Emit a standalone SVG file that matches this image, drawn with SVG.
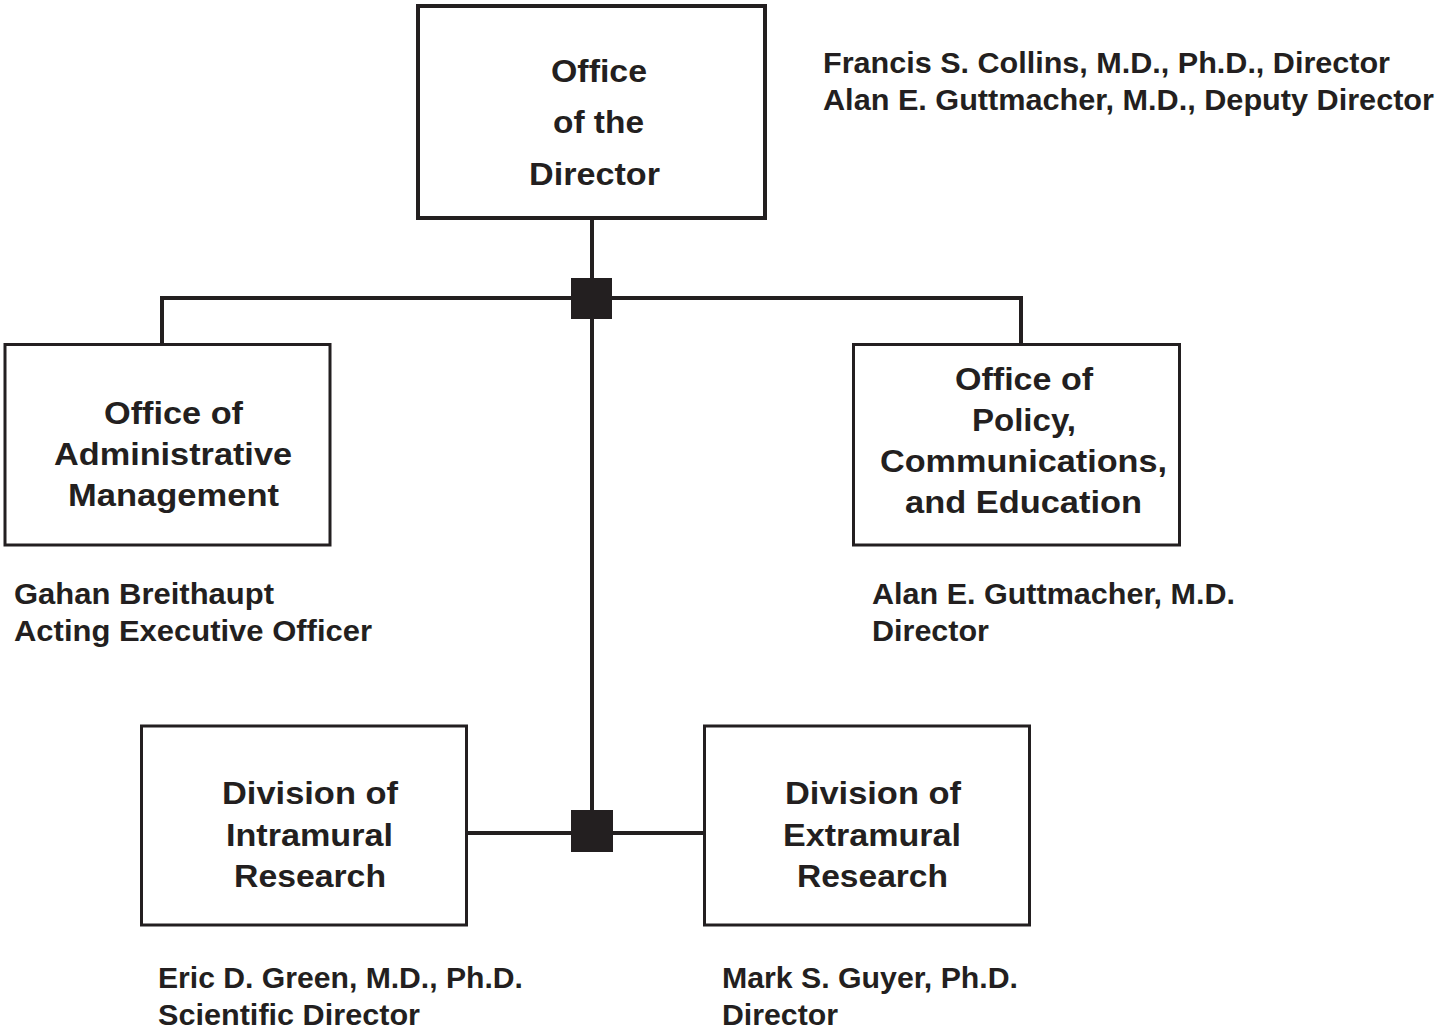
<svg xmlns="http://www.w3.org/2000/svg" width="1435" height="1031" viewBox="0 0 1435 1031">
<style>
.box{fill:#fff;stroke:#231f20;stroke-width:3}
.top{stroke-width:4}
.ln{fill:none;stroke:#231f20;stroke-width:4}
.jn{fill:#231f20}
.t{font-family:"Liberation Sans",Arial,sans-serif;font-weight:bold;font-size:29px;fill:#231f20}
.b{font-size:31px}
</style>
<rect width="1435" height="1031" fill="#fff"/>
<g id="connectors">
<line class="ln" x1="592" y1="218" x2="592" y2="831"/>
<polyline class="ln" points="162,344 162,298 1021,298 1021,344"/>
<line class="ln" x1="467" y1="833" x2="703" y2="833"/>
<rect class="jn" x="571" y="278" width="41" height="41"/>
<rect class="jn" x="571" y="810" width="42" height="42"/>
</g>
<g id="director">
<rect class="box top" x="418" y="6" width="347" height="212"/>
<text class="t b" x="551" y="82" textLength="96" lengthAdjust="spacingAndGlyphs">Office</text>
<text class="t b" x="553" y="133" textLength="91" lengthAdjust="spacingAndGlyphs">of the</text>
<text class="t b" x="529" y="185" textLength="131" lengthAdjust="spacingAndGlyphs">Director</text>
<text class="t" x="823" y="73" textLength="567" lengthAdjust="spacingAndGlyphs">Francis S. Collins, M.D., Ph.D., Director</text>
<text class="t" x="823" y="110" textLength="611" lengthAdjust="spacingAndGlyphs">Alan E. Guttmacher, M.D., Deputy Director</text>
</g>
<g id="admin">
<rect class="box" x="5" y="344.5" width="325" height="200.5"/>
<text class="t b" x="104" y="424" textLength="139" lengthAdjust="spacingAndGlyphs">Office of</text>
<text class="t b" x="54" y="465" textLength="238" lengthAdjust="spacingAndGlyphs">Administrative</text>
<text class="t b" x="68" y="506" textLength="211" lengthAdjust="spacingAndGlyphs">Management</text>
<text class="t" x="14" y="604" textLength="260" lengthAdjust="spacingAndGlyphs">Gahan Breithaupt</text>
<text class="t" x="14" y="641" textLength="358" lengthAdjust="spacingAndGlyphs">Acting Executive Officer</text>
</g>
<g id="policy">
<rect class="box" x="853.5" y="344.5" width="326" height="200.5"/>
<text class="t b" x="955" y="390" textLength="138" lengthAdjust="spacingAndGlyphs">Office of</text>
<text class="t b" x="972" y="431" textLength="104" lengthAdjust="spacingAndGlyphs">Policy,</text>
<text class="t b" x="880" y="472" textLength="287" lengthAdjust="spacingAndGlyphs">Communications,</text>
<text class="t b" x="905" y="513" textLength="237" lengthAdjust="spacingAndGlyphs">and Education</text>
<text class="t" x="872" y="604" textLength="363" lengthAdjust="spacingAndGlyphs">Alan E. Guttmacher, M.D.</text>
<text class="t" x="872" y="641" textLength="117" lengthAdjust="spacingAndGlyphs">Director</text>
</g>
<g id="intramural">
<rect class="box" x="141.5" y="726" width="325" height="199"/>
<text class="t b" x="222" y="804" textLength="176" lengthAdjust="spacingAndGlyphs">Division of</text>
<text class="t b" x="226" y="846" textLength="167" lengthAdjust="spacingAndGlyphs">Intramural</text>
<text class="t b" x="234" y="887" textLength="152" lengthAdjust="spacingAndGlyphs">Research</text>
<text class="t" x="158" y="988" textLength="365" lengthAdjust="spacingAndGlyphs">Eric D. Green, M.D., Ph.D.</text>
<text class="t" x="158" y="1025" textLength="262" lengthAdjust="spacingAndGlyphs">Scientific Director</text>
</g>
<g id="extramural">
<rect class="box" x="704.5" y="726" width="325" height="199"/>
<text class="t b" x="785" y="804" textLength="176" lengthAdjust="spacingAndGlyphs">Division of</text>
<text class="t b" x="783" y="846" textLength="178" lengthAdjust="spacingAndGlyphs">Extramural</text>
<text class="t b" x="797" y="887" textLength="151" lengthAdjust="spacingAndGlyphs">Research</text>
<text class="t" x="722" y="988" textLength="296" lengthAdjust="spacingAndGlyphs">Mark S. Guyer, Ph.D.</text>
<text class="t" x="722" y="1025" textLength="116" lengthAdjust="spacingAndGlyphs">Director</text>
</g>
</svg>
